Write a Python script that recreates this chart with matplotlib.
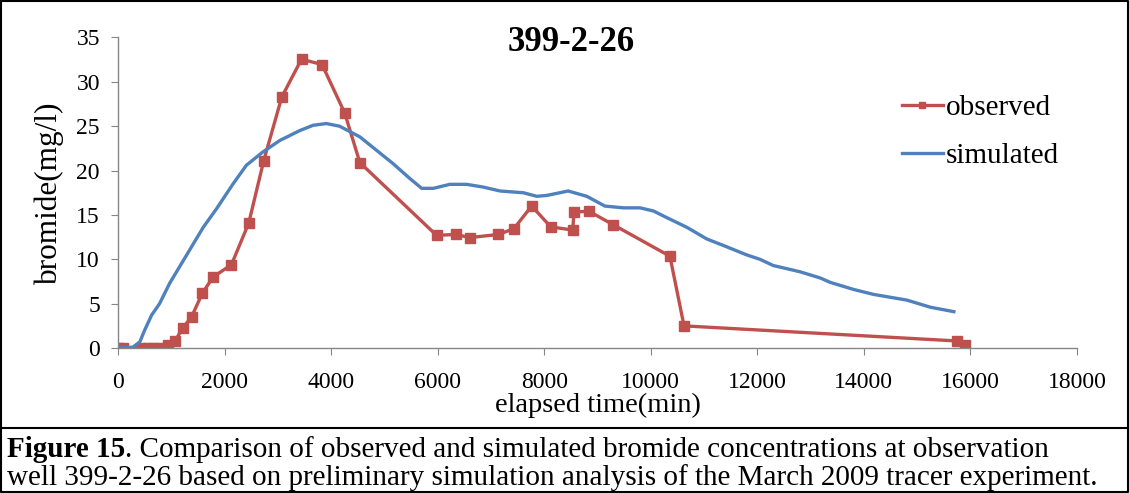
import matplotlib.pyplot as plt
from matplotlib.lines import Line2D

# observed bromide concentrations (time in min, mg/l)
obs_time = [0, 100, 440, 560, 660, 770, 940, 1065, 1220, 1380, 1585, 1785, 2130,
            2455, 2735, 3075, 3445, 3830, 4255, 4540, 5980, 6340, 6605, 7140,
            7430, 7765, 8125, 8535, 8560, 8845, 9295, 10360, 10625, 15745, 15900]
obs_conc = [0, 0, 0, 0, 0, 0, 0.3, 0.75, 2.3, 3.5, 6.2, 8.0, 9.4,
            14.1, 21.1, 28.3, 32.55, 31.95, 26.5, 20.9, 12.7, 12.8, 12.45, 12.8,
            13.45, 16.0, 13.65, 13.3, 15.35, 15.4, 13.9, 10.35, 2.5, 0.8, 0.3]

# simulated curve
sim_time = [0, 280, 410, 500, 630, 780, 970, 1190, 1380, 1600, 1850, 2160,
            2410, 2720, 3040, 3410, 3660, 3910, 4160, 4540, 4850, 5160, 5480,
            5700, 5920, 6230, 6540, 6850, 7170, 7610, 7860, 8050, 8450, 8800,
            9140, 9490, 9800, 10050, 10300, 10680, 11050, 11430, 11800, 12050,
            12300, 12800, 13180, 13370, 13810, 14180, 14810, 15250, 15690]
sim_conc = [0, 0.1, 0.7, 2.0, 3.7, 5.0, 7.3, 9.5, 11.4, 13.6, 15.7, 18.5,
            20.6, 22.1, 23.4, 24.5, 25.1, 25.3, 25.0, 23.8, 22.3, 20.8, 19.1,
            18.0, 18.0, 18.45, 18.45, 18.15, 17.7, 17.5, 17.1, 17.2, 17.7, 17.1,
            16.0, 15.8, 15.8, 15.45, 14.7, 13.6, 12.3, 11.4, 10.5, 10.0,
            9.3, 8.6, 7.9, 7.4, 6.6, 6.05, 5.4, 4.6, 4.1]

x_ticks = list(range(0, 18001, 2000))
y_ticks = list(range(0, 36, 5))

plt.rcParams['font.family'] = ['Liberation Serif', 'DejaVu Serif']

W, H = 1129, 493
fig = plt.figure(figsize=(W / 100, H / 100), dpi=100)
ax = fig.add_axes([0.1045, 0.294, 0.8494, 0.630])

ax.plot(obs_time, obs_conc, color='#C0504D', lw=2.4, marker='s', ms=6.5,
        label='observed')
ax.plot(sim_time, sim_conc, color='#4F81BD', lw=2.4, label='simulated')

ax.set_xlim(0, 18000)
ax.set_ylim(0, 35)
ax.set_xticks(x_ticks)
ax.set_yticks(y_ticks)
ax.tick_params(direction='out', length=5, color='#868686', labelsize=17)
ax.tick_params(axis='x', pad=12)
ax.tick_params(axis='y', pad=8)
for s in ['top', 'right']:
    ax.spines[s].set_visible(False)
for s in ['left', 'bottom']:
    ax.spines[s].set_color('#868686')
    ax.spines[s].set_linewidth(1.0)

ax.set_xlabel('elapsed time(min)', fontsize=20.5, labelpad=0)
ax.set_ylabel('bromide(mg/l)', fontsize=22.5, labelpad=9)
ax.text(0.473, (42.5 - 348) / (37.3 - 348), '399-2-26', transform=ax.transAxes,
        ha='center', va='center', fontsize=25, fontweight='bold')

leg = ax.legend(loc='upper left', bbox_to_anchor=(0.79, 0.90), frameon=False,
                fontsize=21, handlelength=1.4, handletextpad=0.1,
                labelspacing=0.75, markerscale=0.75)

# frame around figure and caption divider
fig.add_artist(Line2D([0.001, 0.999, 0.999, 0.001, 0.001],
                      [0.998, 0.998, 0.002, 0.002, 0.998],
                      transform=fig.transFigure, color='black', lw=1.5))
fig.add_artist(Line2D([0.001, 0.999], [1 - 428 / H, 1 - 428 / H],
                      transform=fig.transFigure, color='black', lw=1.5))

cap_size = 21
cap1 = fig.text(0.006, 1 - 457 / H, 'Figure 15', fontsize=cap_size,
                va='baseline', fontweight='bold')
fig.canvas.draw()
bb = cap1.get_window_extent()
fig.text(bb.x1 / fig.bbox.width, 1 - 457 / H,
         '. Comparison of observed and simulated bromide concentrations at observation',
         fontsize=cap_size, va='baseline')
fig.text(0.006, 1 - 485 / H,
         'well 399-2-26 based on preliminary simulation analysis of the March 2009 tracer experiment.',
         fontsize=cap_size, va='baseline')

fig.savefig('out.png', dpi=100)
